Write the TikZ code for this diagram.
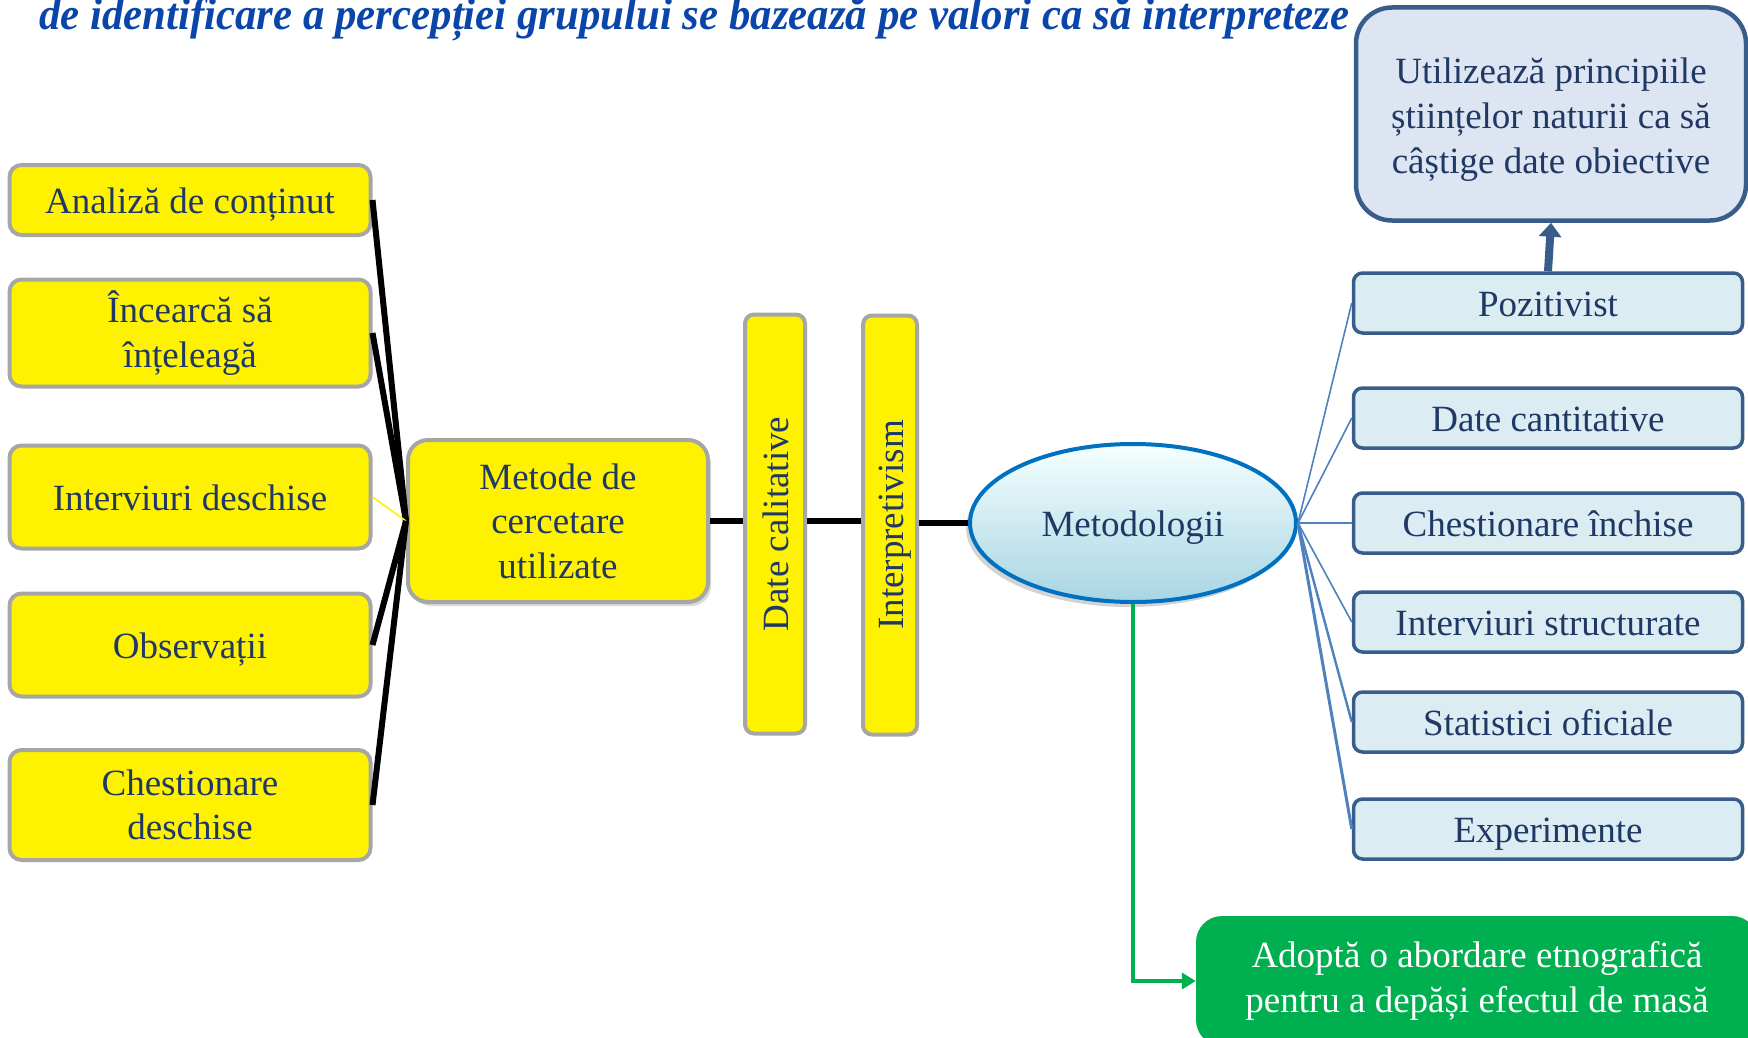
\documentclass[tikz,border=0pt]{standalone}
\usepackage{fontspec}
\setmainfont{Liberation Serif}
\usetikzlibrary{shapes.geometric, positioning, arrows.meta, shadows}

\definecolor{inkblue}{RGB}{31,56,100}
\definecolor{titleblue}{RGB}{10,70,170}
\definecolor{boxgray}{RGB}{166,166,166}
\definecolor{paleblue}{RGB}{219,236,243}
\definecolor{steelblue}{RGB}{56,93,138}
\definecolor{topfill}{RGB}{220,229,241}
\definecolor{ringblue}{RGB}{0,112,192}
\definecolor{spokeblue}{RGB}{79,129,189}
\definecolor{leafgreen}{RGB}{0,176,80}

\begin{document}
\begin{tikzpicture}[x=1pt, y=-1pt,
                    every node/.style={text=inkblue, align=center, inner sep=0pt,
                                       font=\fontsize{37}{44.6}\selectfont},
                    oneline/.style={text height=27pt, text depth=0pt},
                    yellowbox/.style={rectangle, rounded corners=12pt, fill=yellow,
                                      draw=boxgray, line width=4pt},
                    bluebox/.style={rectangle, rounded corners=9pt, fill=paleblue,
                                    draw=steelblue, line width=3.5pt, oneline,
                                    minimum width=389pt, minimum height=60pt},
                    link/.style={line width=6pt},
                    spoke/.style={draw=spokeblue, line width=1.6pt}]
    \clip (0,0) rectangle (1748,1038);

    % title line, cut at the top
    \node (title) [anchor=base west, text=titleblue, xscale=0.952, transform shape,
                   font=\fontsize{45}{52}\selectfont\bfseries\itshape] at (39,30)
          {de identificare a percepției grupului se bazează pe valori ca să interpreteze};

    % left column
    \node (ana)  [yellowbox, oneline, minimum width=361pt, minimum height=70pt]  at (190,200) {Analiză de conținut};
    \node (inc)  [yellowbox, minimum width=361pt, minimum height=107pt] at (190,333) {Încearcă să\\ înțeleagă};
    \node (intd) [yellowbox, oneline, minimum width=361pt, minimum height=103pt] at (190,497) {Interviuri deschise};
    \node (obs)  [yellowbox, oneline, minimum width=361pt, minimum height=103pt] at (190,645) {Observații};
    \node (chd)  [yellowbox, minimum width=361pt, minimum height=110pt] at (190,805) {Chestionare\\ deschise};

    \node (metode) [yellowbox, rounded corners=20pt, minimum width=300pt, minimum height=162pt,
                    drop shadow={opacity=0.3, shadow xshift=3pt, shadow yshift=-4pt}]
                   at (558,521) {Metode de\\ cercetare\\ utilizate};
    \node (datecal) [yellowbox, oneline, rounded corners=9pt, rotate=90, minimum width=419pt, minimum height=60pt]
                    at (775,524) {Date calitative};
    \node (interp)  [yellowbox, oneline, rounded corners=9pt, rotate=90, minimum width=419pt, minimum height=54pt]
                    at (890,525) {Interpretivism};

    \node (metod) [ellipse, oneline, draw=ringblue, line width=4pt, minimum width=326pt, minimum height=158pt,
                   top color=white!96!cyan, bottom color={rgb,255:red,168;green,213;blue,227},
                   drop shadow={opacity=0.35, shadow xshift=-4pt, shadow yshift=-5pt}]
                  at (1133,523) {Metodologii};

    % right column
    \node (poz)   [bluebox] at (1548,303) {Pozitivist};
    \node (dcant) [bluebox] at (1548,418) {Date cantitative};
    \node (chi)   [bluebox] at (1548,523) {Chestionare închise};
    \node (ints)  [bluebox] at (1548,622) {Interviuri structurate};
    \node (stat)  [bluebox] at (1548,722) {Statistici oficiale};
    \node (exper) [bluebox] at (1548,829) {Experimente};

    \node (util) [rectangle, rounded corners=36pt, fill=topfill, draw=steelblue, line width=4.5pt,
                  minimum width=390pt, minimum height=213pt] at (1551,114)
                 {\rule{0pt}{37pt}Utilizează principiile\\ științelor naturii ca să\\ câștige date obiective};

    \node (etno) [rectangle, rounded corners=26pt, fill=leafgreen, text=white,
                  minimum width=562pt, minimum height=130pt] at (1477,981)
                 {Adoptă o abordare etnografică\\ pentru a depăși efectul de masă};

    % connectors
    \draw[link] (ana.east)  -- (metode.west);
    \draw[link] (inc.east)  -- (metode.west);
    \draw[yellow, line width=1.6pt] (intd.east) -- (metode.west);
    \draw[link] (obs.east)  -- (metode.west);
    \draw[link] (chd.east)  -- (metode.west);

    \draw[link] (metode.east) -- (metode.east -| datecal.north);
    \draw[link] (datecal.south |- metode.east) -- (interp.north |- metode.east);
    \draw[link] (interp.south |- metod.west) -- (metod.west);

    \path[spoke] (metod.east) edge (poz.west)
                              edge (dcant.west)
                              edge (chi.west)
                              edge (ints.west)
                              edge [line width=2.4pt] (stat.west)
                              edge [line width=3pt] (exper.west);

    \draw[steelblue, line width=8pt, -{Triangle[width=22pt, length=14pt]}] (poz.north) -- (util.south);
    \draw[leafgreen, line width=4.5pt, -{Triangle[width=16pt, length=14pt]}] (metod.south) |- (etno.west);
\end{tikzpicture}
\end{document}
